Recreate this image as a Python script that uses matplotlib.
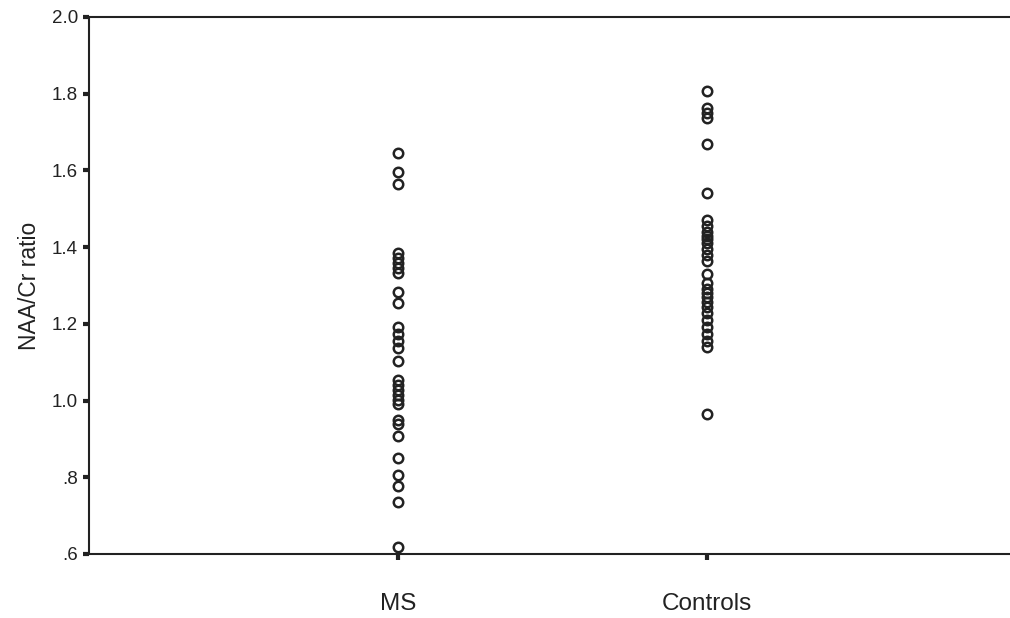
import matplotlib.pyplot as plt
from matplotlib.ticker import FuncFormatter

plt.rcParams['font.family'] = ['Liberation Sans', 'DejaVu Sans']

groups = ['MS', 'Controls']
ms_vals = [1.645, 1.596, 1.565,
           1.385, 1.372, 1.359, 1.346, 1.333,
           1.283, 1.254,
           1.192, 1.174, 1.155, 1.137,
           1.103,
           1.054, 1.041, 1.028, 1.015, 1.002, 0.991,
           0.949, 0.940, 0.908,
           0.850, 0.806, 0.777, 0.735, 0.618]
ctrl_vals = [1.808, 1.763, 1.750, 1.737, 1.669, 1.542,
             1.470, 1.455, 1.440, 1.430, 1.420, 1.410, 1.395, 1.380, 1.365, 1.330,
             1.307, 1.291, 1.281, 1.270, 1.257, 1.244, 1.228, 1.210, 1.192,
             1.174, 1.155, 1.140,
             0.965]
yticks = [0.6, 0.8, 1.0, 1.2, 1.4, 1.6, 1.8, 2.0]

fig = plt.figure(figsize=(10.1, 6.18), dpi=100)
ax = fig.add_axes([0.0881, 0.1036, 0.918, 0.869])

for i, vals in enumerate([ms_vals, ctrl_vals]):
    ax.plot([i + 1] * len(vals), vals, linestyle='none', marker='o', ms=6.8,
            mfc='none', mec='#222222', mew=1.8)

ax.set_xlim(0, 3)
ax.set_ylim(0.6, 2.0)
ax.set_xticks([1, 2])
ax.set_xticklabels(groups)
ax.set_yticks(yticks)

def fmt(v, pos):
    s = '%.1f' % v
    if s.startswith('0'):
        s = s[1:]
    return s

ax.yaxis.set_major_formatter(FuncFormatter(fmt))
ax.tick_params(axis='y', length=4, width=3, color='#222222', labelsize=13.5,
               labelcolor='#222222', pad=4)
ax.tick_params(axis='x', length=4, width=3, color='#222222', labelsize=17.5,
               labelcolor='#222222', pad=24)
ax.set_ylabel('NAA/Cr ratio', fontsize=16.5, color='#222222', labelpad=8)

ax.spines['right'].set_visible(False)
for s in ['left', 'top', 'bottom']:
    ax.spines[s].set_linewidth(1.5)
    ax.spines[s].set_color('#222222')

fig.savefig('out.png', dpi=100)
